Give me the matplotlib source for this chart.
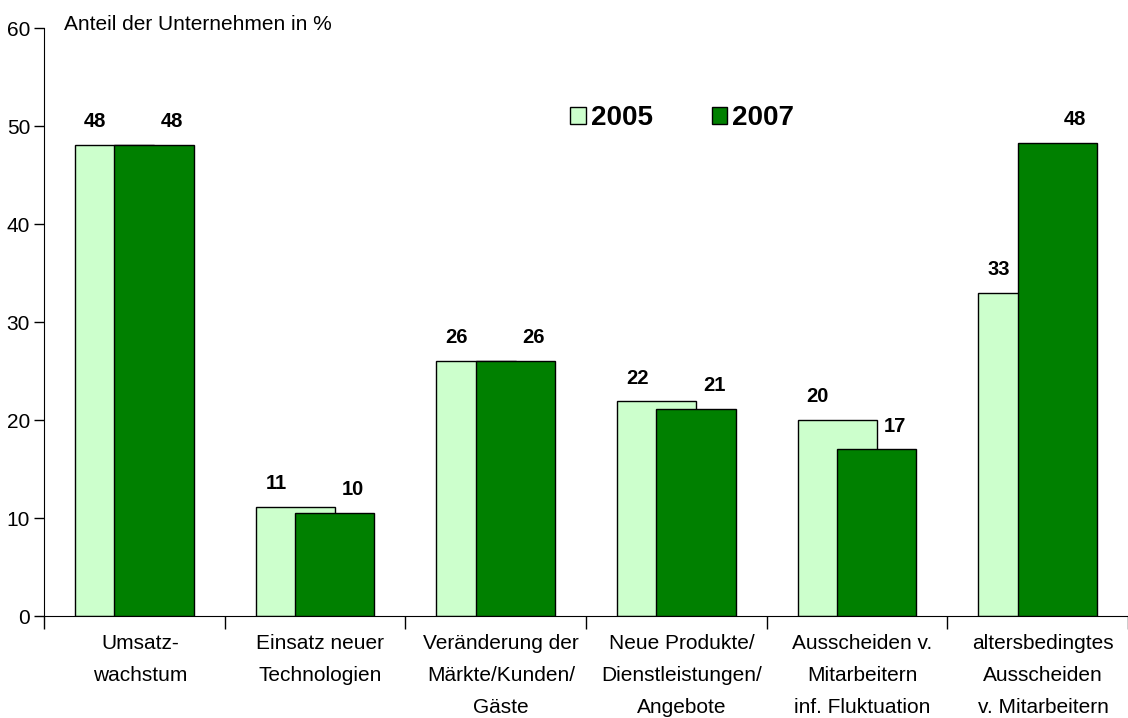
import matplotlib.pyplot as plt
from matplotlib.patches import Patch
import numpy as np

plt.rcParams['font.family'] = ['Liberation Sans', 'DejaVu Sans']

# datos
categorias = ['Umsatz-\nwachstum', 'Einsatz neuer\nTechnologien',
              'Veränderung der\nMärkte/Kunden/\nGäste',
              'Neue Produkte/\nDienstleistungen/\nAngebote',
              'Ausscheiden v.\nMitarbeitern\ninf. Fluktuation',
              'altersbedingtes\nAusscheiden\nv. Mitarbeitern']
werte_2005 = [48.1, 11.1, 26.0, 21.9, 20.0, 33.0]
werte_2007 = [48.1, 10.5, 26.0, 21.1, 17.0, 48.3]
etiketten_2005 = ['48', '11', '26', '22', '20', '33']
etiketten_2007 = ['48', '10', '26', '21', '17', '48']

hell = '#CCFFCC'
dunkel = '#008000'

fig = plt.figure(figsize=(11.28, 7.18), dpi=100)
ax = fig.add_axes([44/1128, 0.142, 1084/1128, 0.819])

x = np.arange(len(categorias))
breite = 0.44
versatz = 0.109

ax.bar(x - versatz, werte_2005, breite, color=hell, edgecolor='black', linewidth=1, zorder=2)
ax.bar(x + versatz, werte_2007, breite, color=dunkel, edgecolor='black', linewidth=1, zorder=3)

# etiquetas de valores
for xi, v, t in zip(x, werte_2005, etiketten_2005):
    ax.annotate(t, (xi - versatz, v), xytext=(-14, 10), textcoords='offset points',
                ha='center', va='bottom', fontsize=14.5, fontweight='bold')
for xi, v, t in zip(x, werte_2007, etiketten_2007):
    ax.annotate(t, (xi + versatz, v), xytext=(13, 10), textcoords='offset points',
                ha='center', va='bottom', fontsize=14.5, fontweight='bold')

ax.set_ylim(0, 60)
ax.set_xlim(-0.5, -0.5 + 1084/182)
ax.set_yticks(range(0, 61, 10))
ax.tick_params(axis='y', labelsize=15, length=7, width=1, direction='out', pad=3)

ax.set_xticks(np.arange(-0.5, len(categorias), 1.0))
ax.set_xticklabels([])
ax.tick_params(axis='x', which='major', length=9, width=1, direction='out')
ax.set_xticks(x + 0.03, minor=True)
ax.set_xticklabels(categorias, minor=True, fontsize=15, linespacing=1.86)
ax.tick_params(axis='x', which='minor', length=0, pad=13)

ax.spines['top'].set_visible(False)
ax.spines['right'].set_visible(False)

fig.text(64/1128, 1 - 25/718, 'Anteil der Unternehmen in %', fontsize=15, va='center', ha='left')

handles = [Patch(facecolor=hell, edgecolor='black', label='2005'),
           Patch(facecolor=dunkel, edgecolor='black', label='2007')]
ax.legend(handles=handles, loc='center', bbox_to_anchor=(0.589, 0.847), ncol=2,
          frameon=False, prop={'size': 20, 'weight': 'bold'},
          handlelength=0.55, handleheight=0.55, handletextpad=0.2, columnspacing=2.1)

fig.savefig('out.png', dpi=100)
